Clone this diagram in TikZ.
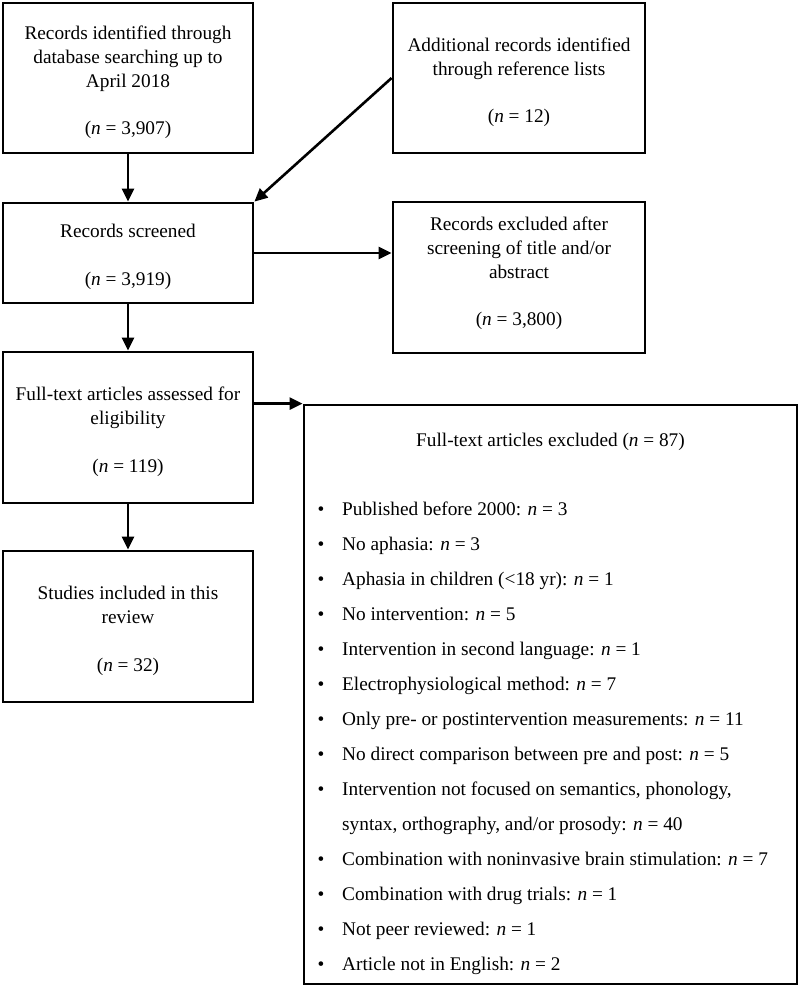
\documentclass[tikz,border=0pt]{standalone}
\usepackage{fontspec}
\setmainfont{Liberation Serif}
\usetikzlibrary{arrows.meta}
\begin{document}
\begin{tikzpicture}[x=1pt,y=-1pt,
  txt/.style={font=\fontsize{19.3}{24}\selectfont},
  box/.style={draw, line width=2.8pt, inner sep=0pt},
  btxt/.style={align=center, inner sep=0pt, txt},
  arr/.style={line width=2.6pt, -{Triangle[length=13pt,width=12pt]}},
  item/.style={anchor=base west, inner sep=0pt, txt},
  bul/.style={anchor=base, inner sep=0pt, txt}]
\useasboundingbox (0,0) rectangle (800,987);
\node[box, minimum width=250pt, minimum height=150pt] (A) at (128,78) {};
\node[btxt] (At) at ([yshift=-4pt]A.center)
  {Records identified through\\database searching up to\\April 2018\\[23pt](\textit{n} = 3,907)};
\node[box, minimum width=252pt, minimum height=150pt] (B) at (519,78) {};
\node[btxt] (Bt) at ([yshift=-4pt]B.center)
  {Additional records identified\\through reference lists\\[23pt](\textit{n} = 12)};
\node[box, minimum width=250pt, minimum height=100pt] (C) at (128,253) {};
\node[btxt] (Ct) at ([yshift=-4pt]C.center)
  {Records screened\\[24pt](\textit{n} = 3,919)};
\node[box, minimum width=252pt, minimum height=151pt] (D) at (519,277.5) {};
\node[btxt] (Dt) at ([yshift=4pt]D.center)
  {Records excluded after\\screening of title and/or\\abstract\\[23pt](\textit{n} = 3,800)};
\node[box, minimum width=250pt, minimum height=151pt] (E) at (128,427.5) {};
\node[btxt] (Et) at ([yshift=-4pt]E.center)
  {Full-text articles assessed for\\eligibility\\[24pt](\textit{n} = 119)};
\node[box, minimum width=250pt, minimum height=151pt] (F) at (128,626.5) {};
\node[btxt] (Ft) at ([yshift=-4pt]F.center)
  {Studies included in this\\review\\[24pt](\textit{n} = 32)};
\node[box, minimum width=493pt, minimum height=579pt] (G) at (550.5,694.5) {};
\node[txt, anchor=base, inner sep=0pt] (Gt) at (550.5,446) {Full-text articles excluded (\textit{n} = 87)};
\foreach \i/\t in {0/{Published before 2000: \textit{n} = 3},
                   1/{No aphasia: \textit{n} = 3},
                   2/{Aphasia in children (<18 yr): \textit{n} = 1},
                   3/{No intervention: \textit{n} = 5},
                   4/{Intervention in second language: \textit{n} = 1},
                   5/{Electrophysiological method: \textit{n} = 7},
                   6/{Only pre- or postintervention measurements: \textit{n} = 11},
                   7/{No direct comparison between pre and post: \textit{n} = 5},
                   8/{Intervention not focused on semantics, phonology,},
                   10/{Combination with noninvasive brain stimulation: \textit{n} = 7},
                   11/{Combination with drug trials: \textit{n} = 1},
                   12/{Not peer reviewed: \textit{n} = 1},
                   13/{Article not in English: \textit{n} = 2}}{
  \node[bul] (b\i) at (321,515+35*\i) {\textbullet};
  \node[item] (t\i) at (342,515+35*\i) {\t};
}
\node[item] (t9) at (342,830) {syntax, orthography, and/or prosody: \textit{n} = 40};
\draw[arr] (A.south) -- (C.north);
\draw[arr] (B.west) -- (C.north east);
\draw[arr] (C.east) -- (C.east -| D.west);
\draw[arr] (C.south) -- (E.north);
\draw[arr] (E.east |- G.north west) -- (G.north west);
\draw[arr] (E.south) -- (F.north);
\end{tikzpicture}
\end{document}
